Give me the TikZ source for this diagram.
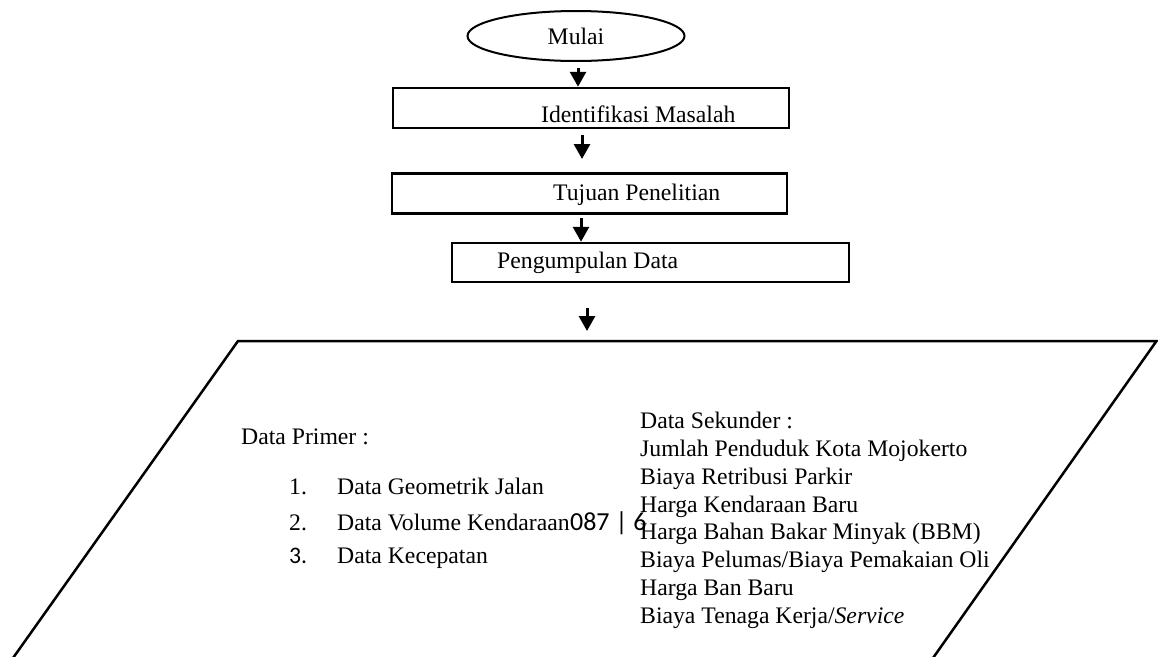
\documentclass[tikz,border=0pt]{standalone}
\usepackage{fontspec}
\setmainfont{Liberation Serif}
\newfontfamily\calfont{Carlito}
\usetikzlibrary{shapes.geometric,arrows.meta}
\tikzset{
  every node/.style={font=\fontsize{23.7}{28}\selectfont, inner sep=0pt},
  box/.style={draw, line width=2.5pt, minimum height=40pt, inner sep=0pt},
  arr/.style={line width=3pt, -{Triangle[width=16pt,length=15pt]}},
  lbl/.style={anchor=base west},
}
\begin{document}
\begin{tikzpicture}[x=1pt,y=-1pt]
  \useasboundingbox (0,0) rectangle (1158,656);

  % start terminal
  \node[draw, ellipse, line width=2pt, minimum width=217pt, minimum height=50pt] (mulai) at (576,36) {Mulai};

  % process boxes
  \node[box, minimum width=396pt] (idbox) at (591,108) {};
  \node[lbl] (idtxt) at (541,122) {Identifikasi Masalah};

  \node[box, minimum width=395pt] (tjbox) at (589.5,193.5) {};
  \node[lbl] (tjtxt) at (553,200) {Tujuan Penelitian};

  \node[box, minimum width=397pt, minimum height=39pt] (pdbox) at (650.5,262.5) {};
  \node[lbl] (pdtxt) at (497,268) {Pengumpulan Data};

  % connectors
  \coordinate (a1) at (578,68);
  \draw[arr] (a1) -- (a1 |- idbox.north);
  \coordinate (a2s) at (582,135);
  \coordinate (a2e) at (582,159);
  \draw[arr] (a2s) -- (a2e);
  \coordinate (a3) at (581,218);
  \draw[arr] (a3) -- (a3 |- pdbox.north);
  \coordinate (a4s) at (587,308);
  \coordinate (a4e) at (587,331);
  \draw[arr] (a4s) -- (a4e);

  % input/output parallelogram (lower edge runs off the page)
  \coordinate (pbl) at (13,658);
  \coordinate (ptl) at (238,341);
  \coordinate (ptr) at (1156.5,341);
  \coordinate (pbr) at (933,658);
  \draw[line width=2.5pt, line join=miter] (pbl) -- (ptl) -- (ptr) -- (pbr);

  % primary data
  \node[lbl] (prim) at (241,444) {Data Primer :};
  \node[lbl] (n1) at (289,494) {1.};
  \node[lbl] (p1) at (337,494) {Data Geometrik Jalan};
  \node[lbl] (n2) at (289,530) {2.};
  \node[lbl] (p2) at (337,530) {Data Volume Kendaraan};
  \node[lbl, font=\calfont\fontsize{26}{28}\selectfont] (code) at (p2.base east) {087 | 6};
  \node[lbl, font=\calfont\fontsize{23.7}{28}\selectfont] (n3) at (289,563) {3.};
  \node[lbl] (p3) at (337,563) {Data Kecepatan};

  % secondary data
  \node[lbl] (sek) at (640,428) {Data Sekunder :};
  \node[lbl] (s1) at (640,456) {Jumlah Penduduk Kota Mojokerto};
  \node[lbl] (s2) at (640,484) {Biaya Retribusi Parkir};
  \node[lbl] (s3) at (640,512) {Harga Kendaraan Baru};
  \node[lbl] (s4) at (640,539.5) {Harga Bahan Bakar Minyak (BBM)};
  \node[lbl] (s5) at (640,567) {Biaya Pelumas/Biaya Pemakaian Oli};
  \node[lbl] (s6) at (640,595) {Harga Ban Baru};
  \node[lbl] (s7) at (640,623) {Biaya Tenaga Kerja/\textit{Service}};
\end{tikzpicture}
\end{document}
